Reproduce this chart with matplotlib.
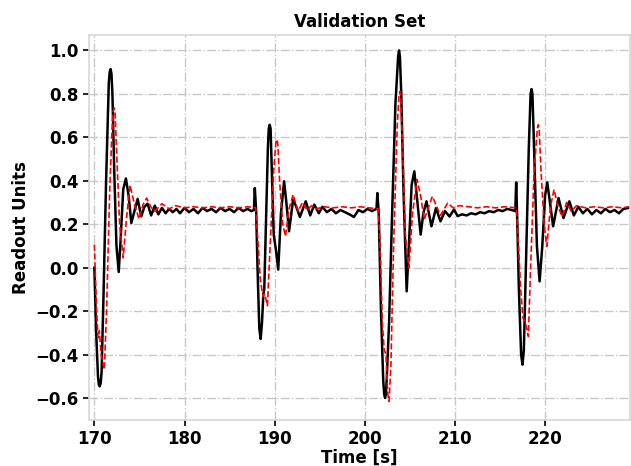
import matplotlib
matplotlib.use("Agg")
import matplotlib.pyplot as plt

meas_t = [170.0, 170.2, 170.4, 170.5, 170.6, 170.7, 170.8, 171.0, 171.3, 171.6,
          171.7, 171.8, 171.9, 172.0, 172.2, 172.45, 172.7, 172.9, 173.2, 173.5,
          173.8, 174.1, 174.45, 174.8, 175.2, 175.55, 175.9, 176.3, 176.7, 177.1,
          177.5, 177.9, 178.3, 178.7, 179.1, 179.5, 180.0, 180.5, 181.0, 181.5,
          182.0, 182.5, 183.0, 183.5, 184.0, 184.5, 185.0, 185.5, 186.0, 186.5,
          187.0, 187.4, 187.7, 187.8, 187.95, 188.1, 188.3, 188.45, 188.6, 188.75,
          188.85, 189.0, 189.25, 189.35, 189.45, 189.55, 189.65, 189.9, 190.15, 190.4,
          190.7, 191.05, 191.3, 191.6, 192.05, 192.4, 192.8, 193.45, 193.95, 194.4,
          194.9, 195.3, 195.8, 196.3, 196.8, 197.3, 197.8, 198.3, 198.8, 199.3,
          199.8, 200.3, 200.8, 201.3, 201.4, 201.55, 201.8, 202.05, 202.15, 202.25,
          202.35, 202.45, 202.7, 203.0, 203.4, 203.7, 203.8, 203.9, 204.05, 204.3,
          204.65, 204.95, 205.2, 205.5, 205.85, 206.2, 206.5, 206.85, 207.4, 207.9,
          208.4, 208.9, 209.4, 209.9, 210.3, 210.8, 211.3, 211.8, 212.3, 212.8,
          213.3, 213.8, 214.3, 214.8, 215.3, 215.8, 216.3, 216.7, 216.8, 216.9,
          217.1, 217.35, 217.5, 217.65, 217.9, 218.2, 218.4, 218.5, 218.6, 218.75,
          219.1, 219.4, 219.7, 220.0, 220.25, 220.55, 220.9, 221.5, 222.05, 222.7,
          223.2, 223.7, 224.2, 224.7, 225.2, 225.7, 226.2, 226.7, 227.2, 227.7,
          228.2, 228.7, 229.3]
meas_y = [0.00, -0.30, -0.50, -0.54, -0.546, -0.53, -0.48, -0.15, 0.40, 0.85,
          0.90, 0.913, 0.89, 0.80, 0.45, 0.10, -0.02, 0.12, 0.36, 0.41,
          0.33, 0.205, 0.26, 0.316, 0.236, 0.28, 0.294, 0.24, 0.285, 0.245,
          0.275, 0.25, 0.27, 0.255, 0.27, 0.25, 0.275, 0.255, 0.27, 0.25,
          0.275, 0.26, 0.27, 0.255, 0.275, 0.26, 0.27, 0.255, 0.275, 0.26,
          0.27, 0.26, 0.265, 0.366, 0.26, 0.00, -0.28, -0.328, -0.25, -0.12,
          -0.10, 0.15, 0.55, 0.64, 0.657, 0.64, 0.50, 0.15, 0.08, -0.009,
          0.25, 0.397, 0.30, 0.167, 0.313, 0.28, 0.233, 0.305, 0.24, 0.29,
          0.25, 0.28, 0.255, 0.27, 0.25, 0.265, 0.255, 0.245, 0.233, 0.265,
          0.255, 0.27, 0.26, 0.27, 0.343, 0.25, -0.20, -0.52, -0.58, -0.599,
          -0.58, -0.50, -0.25, 0.20, 0.75, 0.97, 0.999, 0.97, 0.80, 0.35,
          -0.109, 0.15, 0.38, 0.443, 0.30, 0.152, 0.25, 0.305, 0.19, 0.274,
          0.213, 0.26, 0.235, 0.267, 0.237, 0.245, 0.24, 0.25, 0.245, 0.255,
          0.25, 0.26, 0.255, 0.265, 0.26, 0.27, 0.265, 0.26, 0.392, 0.25,
          -0.10, -0.40, -0.446, -0.38, 0.05, 0.55, 0.80, 0.821, 0.80, 0.60,
          0.10, -0.063, 0.10, 0.33, 0.392, 0.30, 0.19, 0.32, 0.228, 0.305,
          0.24, 0.28, 0.25, 0.27, 0.245, 0.265, 0.25, 0.27, 0.255, 0.265,
          0.25, 0.27, 0.275]

# model prediction (red dashed)
pred_t = [170.0, 170.2, 170.4, 170.55, 170.75, 171.1, 171.35, 171.7, 172.0, 172.1,
          172.2, 172.3, 172.45, 172.8, 173.2, 173.55, 173.95, 174.4, 174.95, 175.4,
          175.8, 176.25, 176.7, 177.5, 178.3, 179.0, 180.0, 181.0, 182.0, 183.0,
          184.0, 185.0, 186.0, 187.0, 187.9, 188.1, 188.4, 188.7, 188.9, 189.2,
          189.5, 189.9, 190.15, 190.25, 190.35, 190.55, 190.9, 191.2, 191.6, 192.05,
          192.6, 193.1, 193.6, 194.1, 194.6, 195.5, 196.5, 197.5, 198.5, 199.5,
          200.5, 201.5, 201.7, 201.95, 202.15, 202.35, 202.55, 202.7, 202.9, 203.2,
          203.6, 203.8, 203.9, 204.0, 204.2, 204.5, 204.9, 205.3, 205.8, 206.2,
          206.6, 207.5, 208.4, 209.2, 209.8, 210.5, 211.5, 212.5, 213.5, 214.5,
          215.5, 216.8, 217.0, 217.3, 217.55, 217.8, 218.15, 218.4, 218.8, 219.15,
          219.25, 219.35, 219.55, 219.9, 220.2, 220.6, 221.0, 221.45, 221.9, 222.4,
          222.9, 223.5, 224.5, 225.5, 226.5, 227.5, 228.5, 229.3]
pred_y = [0.106, -0.15, -0.323, -0.29, -0.40, -0.469, -0.20, 0.35, 0.68, 0.72,
          0.734, 0.71, 0.55, 0.20, 0.045, 0.22, 0.38, 0.30, 0.224, 0.29,
          0.32, 0.28, 0.259, 0.294, 0.27, 0.285, 0.275, 0.28, 0.275, 0.28,
          0.275, 0.28, 0.275, 0.28, 0.275, 0.15, -0.05, -0.132, -0.12, -0.175,
          0.10, 0.45, 0.58, 0.589, 0.57, 0.40, 0.20, 0.144, 0.27, 0.336,
          0.26, 0.30, 0.265, 0.285, 0.27, 0.28, 0.275, 0.28, 0.275, 0.28,
          0.275, 0.27, 0.10, -0.25, -0.377, -0.40, -0.58, -0.615, -0.45, 0.10,
          0.65, 0.79, 0.81, 0.78, 0.55, 0.15, -0.002, 0.25, 0.405, 0.33,
          0.221, 0.328, 0.24, 0.297, 0.275, 0.285, 0.28, 0.275, 0.28, 0.275,
          0.28, 0.275, 0.15, -0.10, -0.23, -0.25, -0.316, 0.00, 0.45, 0.64,
          0.657, 0.64, 0.45, 0.20, 0.098, 0.28, 0.359, 0.28, 0.235, 0.30,
          0.26, 0.285, 0.275, 0.28, 0.275, 0.28, 0.275, 0.28]

plt.rcParams["font.family"] = "DejaVu Sans"
plt.rcParams["font.weight"] = "bold"

fig = plt.figure(figsize=(6.31, 4.66), dpi=100)
ax = fig.add_axes([0.141, 0.099, 0.857, 0.826])

ax.plot(meas_t, meas_y, color="black", lw=1.8)
ax.plot(pred_t, pred_y, color="red", lw=1.2, ls="--")

ax.set_xlim(169.4, 229.4)
ax.set_ylim(-0.70, 1.07)
ax.set_xticks([170, 180, 190, 200, 210, 220])
ax.set_yticks([-0.6, -0.4, -0.2, 0.0, 0.2, 0.4, 0.6, 0.8, 1.0])

ax.grid(True, color="#c8c8c8", ls="-.", lw=1.0)
ax.set_axisbelow(True)
for s in ax.spines.values():
    s.set_color("#d8d8d8")
    s.set_linewidth(1.2)

ax.tick_params(axis="both", labelsize=12, length=4, width=1.2, color="black")
for lbl in ax.get_xticklabels() + ax.get_yticklabels():
    lbl.set_fontweight("bold")

ax.set_xlabel("Time [s]", fontsize=12, fontweight="bold", labelpad=0)
ax.set_ylabel("Readout Units", fontsize=12, fontweight="bold")
ax.set_title("Validation Set", fontsize=12, fontweight="bold")

fig.savefig("out.png", dpi=100)
